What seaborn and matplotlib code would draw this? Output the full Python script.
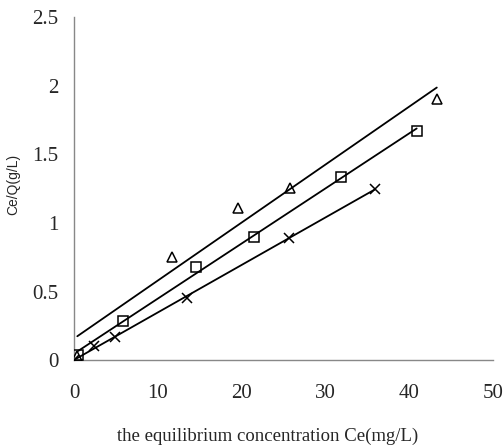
import matplotlib
matplotlib.use("Agg")
import matplotlib.pyplot as plt
import seaborn as sns
import numpy as np

# Data
tri_x = [0.4, 11.7, 19.6, 25.8, 43.3]
tri_y = [0.03, 0.75, 1.11, 1.255, 1.90]
sq_x = [0.5, 5.8, 14.6, 21.5, 31.9, 40.9]
sq_y = [0.035, 0.285, 0.68, 0.90, 1.335, 1.67]
cr_x = [0.0, 2.4, 4.9, 13.5, 25.7, 35.9]
cr_y = [0.0, 0.10, 0.17, 0.45, 0.89, 1.25]

x_ticks = [0, 10, 20, 30, 40, 50]
y_ticks = [0, 0.5, 1, 1.5, 2, 2.5]
y_tick_labels = ["0", "0.5", "1", "1.5", "2", "2.5"]

sns.set_style("white")
plt.rcParams["font.family"] = ["Liberation Serif", "DejaVu Serif"]

fig = plt.figure(figsize=(5.03, 4.48), dpi=100)
ax = fig.add_axes([0.147, 0.196, 0.833, 0.766])

series = [
    (tri_x, tri_y, "^", 7, True),
    (sq_x, sq_y, "s", 6.5, True),
    (cr_x, cr_y, "x", 7, False),
]
for xs, ys, m, ms, hollow in series:
    sns.regplot(x=np.array(xs), y=np.array(ys), ax=ax, ci=None, scatter=False,
                truncate=True, line_kws=dict(color="black", lw=1.3))
    if hollow:
        ax.plot(xs, ys, linestyle="none", marker=m, markersize=ms,
                markerfacecolor="none", markeredgecolor="black", markeredgewidth=1.1,
                zorder=4)
    else:
        ax.plot(xs, ys, linestyle="none", marker=m, markersize=ms,
                color="black", markeredgewidth=1.1, zorder=4)

ax.set_xlim(0, 50)
ax.set_ylim(0, 2.5)
ax.set_xticks(x_ticks)
ax.set_xticklabels([str(v) for v in x_ticks])
ax.set_yticks(y_ticks)
ax.set_yticklabels(y_tick_labels)
ax.tick_params(direction="in", length=3, color="#888888", labelsize=15)
ax.tick_params(axis="y", pad=11)
ax.tick_params(axis="x", pad=17)

for s in ["top", "right"]:
    ax.spines[s].set_visible(False)
for s in ["left", "bottom"]:
    ax.spines[s].set_color("#888888")
    ax.spines[s].set_linewidth(1.0)

ax.set_xlabel("the equilibrium concentration Ce(mg/L)", fontsize=13.5)
ax.xaxis.set_label_coords(0.463, -0.197)
ax.set_ylabel("Ce/Q(g/L)", fontsize=10, family=["Liberation Sans", "DejaVu Sans"])
ax.yaxis.set_label_coords(-0.128, 0.513)

fig.savefig("out.png", dpi=100)
